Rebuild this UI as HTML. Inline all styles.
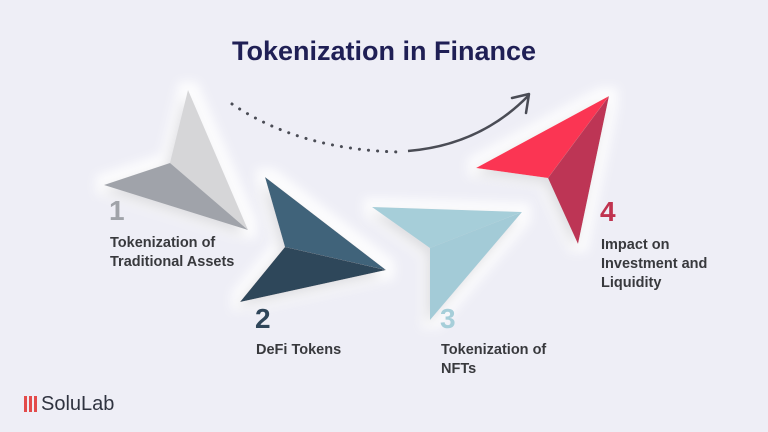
<!DOCTYPE html>
<html><head><meta charset="utf-8"><style>
body{margin:0;width:768px;height:432px;background:#eeeef6;overflow:hidden;position:relative;font-family:"Liberation Sans",sans-serif}
.t{position:absolute;font-weight:bold;white-space:nowrap}
.lbl{font-size:14.5px;line-height:19px;color:#38393d}
.num{font-size:28px;line-height:28px}
</style></head><body>
<svg width="768" height="432" style="position:absolute;left:0;top:0">
<defs>
<filter id="g" x="-30%" y="-30%" width="160%" height="160%">
<feMorphology in="SourceAlpha" operator="dilate" radius="9" result="d"/>
<feGaussianBlur in="d" stdDeviation="5" result="b"/>
<feFlood flood-color="#ffffff" flood-opacity="0.85"/>
<feComposite in2="b" operator="in" result="w"/>
<feGaussianBlur in="SourceAlpha" stdDeviation="6" result="s"/>
<feOffset in="s" dx="-4" dy="6" result="so"/>
<feFlood flood-color="#8a8a99" flood-opacity="0.35"/>
<feComposite in2="so" operator="in" result="sh"/>
<feMerge><feMergeNode in="w"/><feMergeNode in="sh"/><feMergeNode in="SourceGraphic"/></feMerge>
</filter>
</defs>
<path d="M232 104 Q300 150 400 152" fill="none" stroke="#4a4c55" stroke-width="3" stroke-dasharray="0.1 9" stroke-linecap="round"/>
<path d="M408 151 Q480 145 528 96" fill="none" stroke="#4a4c55" stroke-width="2.5"/>
<path d="M512 98 L529 94 L526 113" fill="none" stroke="#4a4c55" stroke-width="2.5" stroke-linejoin="round" stroke-linecap="round"/>
<g filter="url(#g)">
<polygon points="188,90 170,163 248,230" fill="#d6d6d8"/>
<polygon points="104,185 170,163 248,230" fill="#a0a3aa"/>
</g>
<g filter="url(#g)">
<polygon points="265,177 285,247 386,270" fill="#41637a"/>
<polygon points="240,302 285,247 386,270" fill="#2f465a"/>
</g>
<g filter="url(#g)">
<polygon points="372,207 522,212 430,248" fill="#a6ced9"/>
<polygon points="430,248 522,212 430,320" fill="#a3cbd7"/>
</g>
<g filter="url(#g)">
<polygon points="476,168 609,96 548,178" fill="#fb3552"/>
<polygon points="609,96 548,178 578,244" fill="#bd3455"/>
</g>
</svg>
<div class="t" style="left:0;width:768px;text-align:center;top:36px;font-size:27px;color:#1f1f55">Tokenization in Finance</div>
<div class="t num" style="left:109px;top:197px;color:#a0a3a9">1</div>
<div class="t lbl" style="left:110px;top:234px">Tokenization of<br>Traditional Assets</div>
<div class="t num" style="left:255px;top:305px;color:#2f465a">2</div>
<div class="t lbl" style="left:256px;top:341px">DeFi Tokens</div>
<div class="t num" style="left:440px;top:305px;color:#a6ced9">3</div>
<div class="t lbl" style="left:441px;top:341px">Tokenization of<br>NFTs</div>
<div class="t num" style="left:600px;top:198px;color:#c0334f">4</div>
<div class="t lbl" style="left:601px;top:236px">Impact on<br>Investment and<br>Liquidity</div>
<div style="position:absolute;left:24px;top:396px;width:14px;height:16px;background:repeating-linear-gradient(90deg,#e34b4b 0 3px,transparent 3px 5px)"></div>
<div class="t" style="left:41px;top:393px;font-size:20px;font-weight:normal;color:#2f3340">SoluLab</div>
</body></html>
